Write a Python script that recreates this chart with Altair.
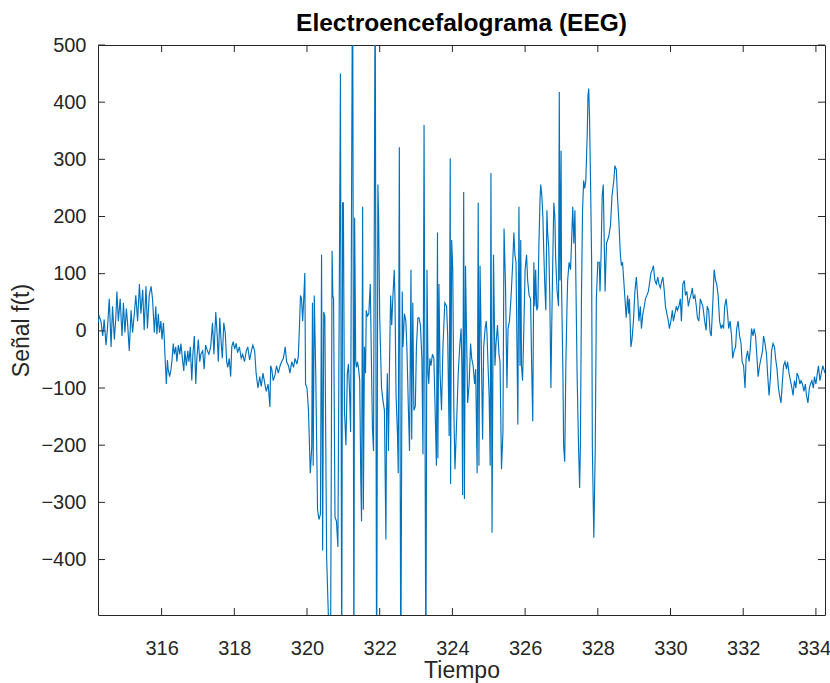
import altair as alt
import pandas as pd

tiempo = [
    314.25, 314.28, 314.33, 314.38, 314.42, 314.47, 314.51, 314.56, 314.61, 314.65, 314.70, 314.74, 314.77, 314.81, 314.86, 314.91,
    314.95, 314.99, 315.03, 315.06, 315.11, 315.16, 315.20, 315.25, 315.29, 315.34, 315.39, 315.43, 315.48, 315.52, 315.57, 315.61,
    315.66, 315.71, 315.75, 315.80, 315.84, 315.87, 315.91, 315.94, 315.98, 316.01, 316.05, 316.07, 316.10, 316.13, 316.16, 316.18,
    316.22, 316.26, 316.29, 316.32, 316.35, 316.39, 316.42, 316.46, 316.50, 316.53, 316.57, 316.61, 316.64, 316.68, 316.72, 316.75,
    316.79, 316.83, 316.86, 316.90, 316.94, 316.97, 317.01, 317.05, 317.08, 317.13, 317.17,
    317.21, 317.26, 317.30, 317.35, 317.40, 317.44, 317.49, 317.53, 317.56, 317.60, 317.64, 317.67, 317.71, 317.75, 317.79, 317.82,
    317.86, 317.90, 317.93, 317.97, 318.01, 318.05, 318.09, 318.14, 318.19, 318.23, 318.28, 318.33, 318.37, 318.42, 318.47, 318.51,
    318.56, 318.60, 318.65, 318.70, 318.74, 318.79, 318.84, 318.88, 318.93, 318.98, 319.00, 319.03, 319.07, 319.12, 319.16, 319.21,
    319.26, 319.30, 319.35, 319.40, 319.44, 319.49, 319.53, 319.58, 319.63, 319.67, 319.72, 319.76,
    319.79, 319.82, 319.85, 319.88, 319.91, 319.94, 319.96, 320.00, 320.04, 320.09, 320.13, 320.15, 320.17, 320.20, 320.24, 320.29,
    320.33, 320.37, 320.40, 320.43, 320.46, 320.49, 320.54, 320.645, 320.69, 320.71, 320.73, 320.77, 320.81, 320.85, 320.92, 320.955,
    320.98, 321.00, 321.03, 321.07, 321.11, 321.14, 321.17, 321.20, 321.255, 321.29, 321.31, 321.34, 321.36, 321.39, 321.42, 321.45,
    321.48, 321.50, 321.53, 321.55, 321.58, 321.61, 321.63, 321.66, 321.70, 321.74, 321.80, 321.83, 321.875, 321.915, 321.95, 321.97,
    322.00, 322.05, 322.09, 322.13, 322.17, 322.19, 322.21, 322.24, 322.27, 322.30, 322.33, 322.36, 322.40, 322.42, 322.45, 322.49,
    322.51, 322.54, 322.58, 322.62, 322.64, 322.68, 322.72, 322.75, 322.79, 322.82, 322.86, 322.88, 322.91, 322.94, 322.98, 323.01,
    323.05, 323.08, 323.12, 323.16, 323.19, 323.22, 323.27, 323.30, 323.33, 323.35, 323.38,
    323.41, 323.45, 323.49, 323.52, 323.56, 323.59, 323.60, 323.63, 323.66, 323.70, 323.74, 323.79, 323.84, 323.87, 323.91, 323.94,
    323.95, 323.98, 324.01, 324.04, 324.07, 324.11, 324.16, 324.20, 324.24, 324.26, 324.28, 324.31, 324.33, 324.36, 324.39, 324.42,
    324.46, 324.50, 324.53, 324.57, 324.61, 324.64, 324.68, 324.71, 324.73, 324.76, 324.79, 324.83, 324.86, 324.90, 324.93, 324.95,
    324.98, 325.01, 325.04, 325.06, 325.09, 325.13, 325.17, 325.20, 325.24, 325.28, 325.31, 325.35, 325.39, 325.42, 325.46, 325.50,
    325.53, 325.57,
    325.61, 325.66, 325.69, 325.72, 325.75, 325.80, 325.83, 325.86, 325.88, 325.90, 325.93, 325.96, 326.00, 326.04, 326.07, 326.11,
    326.15, 326.18, 326.21, 326.24, 326.27, 326.29, 326.32, 326.35, 326.38, 326.41, 326.43, 326.46, 326.49, 326.51, 326.54, 326.57,
    326.60, 326.62, 326.65, 326.68, 326.71, 326.73, 326.76, 326.79, 326.82, 326.84, 326.88, 326.92, 326.94, 326.96, 326.99, 327.00,
    327.04, 327.06, 327.09, 327.12, 327.15, 327.17, 327.21, 327.25, 327.28, 327.31, 327.34, 327.37, 327.39, 327.43, 327.47, 327.50,
    327.52, 327.55, 327.58, 327.61, 327.64, 327.67, 327.71, 327.73, 327.75, 327.77, 327.80, 327.83, 327.85, 327.89, 327.93, 327.96,
    328.00, 328.04, 328.06, 328.09, 328.12, 328.15,
    328.20, 328.24, 328.30, 328.35, 328.39, 328.44, 328.47, 328.51, 328.54, 328.58, 328.62, 328.65, 328.68, 328.72, 328.76, 328.78,
    328.82, 328.85, 328.87, 328.91, 328.94, 328.98, 329.02, 329.06, 329.10, 329.13, 329.17, 329.20, 329.24, 329.28, 329.31, 329.35,
    329.39, 329.42, 329.46, 329.50, 329.53, 329.57, 329.61, 329.65, 329.68, 329.72, 329.76, 329.79, 329.83, 329.86, 329.90, 329.94,
    329.97, 330.01, 330.05, 330.08, 330.12, 330.16, 330.19, 330.23, 330.27, 330.30, 330.34, 330.38, 330.41, 330.45, 330.49, 330.53,
    330.56, 330.60, 330.63, 330.67, 330.71, 330.74, 330.78, 330.82,
    330.89, 330.94, 330.98, 331.01, 331.05, 331.09, 331.12, 331.16, 331.20, 331.24, 331.27, 331.31, 331.35, 331.39, 331.42, 331.46,
    331.49, 331.53, 331.57, 331.60, 331.64, 331.68, 331.71, 331.75, 331.79, 331.82, 331.86, 331.90, 331.94, 331.97, 332.01, 332.05,
    332.08, 332.12, 332.16, 332.19, 332.23, 332.27, 332.30, 332.34, 332.38, 332.41, 332.45, 332.49, 332.53, 332.56, 332.60, 332.64,
    332.67, 332.71, 332.75, 332.78, 332.82, 332.86, 332.89, 332.93, 332.97, 333.00, 333.04, 333.08, 333.11, 333.15, 333.19, 333.22,
    333.26, 333.30, 333.34, 333.37, 333.41, 333.45, 333.48, 333.52, 333.56, 333.59, 333.63, 333.67, 333.71, 333.74, 333.78, 333.82,
    333.85, 333.89, 333.93, 333.96, 334.00, 334.04, 334.07, 334.11, 334.15, 334.19, 334.25,
]

senal = [
    15, 26, 17, -9, 20, -25, 4, 56, -28, 43, -15, 23, 69, 17, 56, -9,
    49, -3, 39, 17, -35, 36, -3, 30, 62, 17, 82, 30, 72, 1, 78, 4,
    62, 78, 56, -3, 43, -6, 30, -3, 17, -15, 14, -9, -54, -93, -51, -67,
    -80, -67, -48, -22, -41, -28, -54, -25, -41, -22, -48, -70, -35, -61, -35, -54,
    -28, -87, -41, -9, -93, -48, -15, -54, -41, -35, -67,
    -25, -35, -41, -28, 14, -41, 33, -9, -54, 23, -22, -48, 14, -3, -54, -64,
    -48, -80, -28, -19, -32, -22, -38, -28, -48, -41, -54, -35, -28, -51, -35, -25,
    -35, -74, -100, -80, -97, -74, -93, -106, -93, -133, -61, -67, -87, -77, -61, -74,
    -61, -54, -48, -28, -54, -61, -74, -54, -64, -48, -58, -45,
    4, 62, 56, 17, 56, 101, -93, -100, -139, -249, -203, 49, -236, 62, -74, -313,
    -330, -320, 133, -384, 33, 26, -397, -620, 140, 62, 56, -326, -333, -378, 450, -620,
    224, 224, -139, -200, -74, -58, -106, -177, 700, -650, 198, -54, -64, -54, -67, -87,
    -262, -333, 217, -313, -28, -74, 36, 26, 30, 82, -171, -210, 650, -650, 256, 198,
    23, -100, -122, -139, -365, -139, -74, -210, -54, 62, 10, 56, 107, 56, -113, -184,
    -249, 321, -620, 69, -28, 30, 17, -35, -139, -210, 107, -190, 49, -139, -132, -28,
    23, 23, 10, -48, -216, 360, -620, 107, -74, -93, -48,
    -61, -41, -48, -126, -236, 172, -223, 82, -74, -139, -28, 49, 43, -9, -184, 302,
    -268, 159, 107, -139, -242, -171, -74, -28, 4, -61, -287, 243, -294, 114, -9, -126,
    -93, -22, -48, -61, -93, -67, -249, 224, -236, 114, -9, -190, -28, 4, 17, -3,
    -61, -113, -236, 276, -353, 133, -61, -22, 10, -41, -54, -242, -177, 179, 82, -100,
    4, 17,
    56, 120, 172, 133, 120, -164, 217, -61, 159, -61, -87, -9, 107, 133, 88, 62,
    56, -61, -158, 120, 43, 107, 36, 43, 153, 230, 256, 236, 198, 146, 82, 36,
    211, 172, 146, 56, -100, -3, 120, 224, 198, 127, 69, 43, 418, 88, 315, 88,
    -74, -203, -229, -61, 36, 88, 120, 107, 159, 217, 153, 211, 120, -74, -203, -275,
    -203, 56, 211, 263, 249, 263, 347, 412, 424, 379, 263, 120, -203, -362, -203, 56,
    120, 120, 69, 133, 236, 256,
    69, 153, 165, 185, 236, 263, 289, 282, 236, 191, 133, 114, 120, 82, 43, 23,
    62, 30, 56, -28, -16, 17, 69, 94, 56, 17, 43, 4, 30, 43, 56, 62,
    69, 82, 101, 107, 114, 88, 82, 94, 82, 75, 88, 94, 69, 43, 30, 17,
    4, 17, 36, 17, 30, 43, 36, 43, 56, 17, 82, 88, 62, 69, 43, 56,
    62, 75, 56, 62, 43, 23, 17, 56,
    43, 17, 1, 43, 36, -3, -9, 43, 107, 88, 82, 62, 17, 4, 10, 4,
    43, 56, 30, 4, 17, -9, -48, -35, -28, 4, 17, -9, -22, -54, -61, -100,
    -48, -35, -54, -35, 4, -9, 4, -9, -48, -80, -61, -48, -35, -9, -22, -41,
    -74, -113, -80, -35, -22, -28, -48, -67, -100, -113, -126, -87, -61, -54, -67, -54,
    -74, -87, -100, -113, -87, -100, -74, -80, -93, -87, -93, -106, -93, -113, -126, -100,
    -93, -87, -100, -80, -93, -74, -61, -87, -74, -61, -74,
]

x_ticks = [316, 318, 320, 322, 324, 326, 328, 330, 332, 334]
y_ticks = [-400, -300, -200, -100, 0, 100, 200, 300, 400, 500]
x_domain = [314.25, 334.25]
y_domain = [-497, 500]

W, H = 727, 570
TXT = "#262626"
FONT = "Liberation Sans"
TICK = 7

df = pd.DataFrame({"t": tiempo, "v": senal})
df_xt = pd.DataFrame({"t": x_ticks})
df_yt = pd.DataFrame({"v": y_ticks})

xscale = alt.Scale(domain=x_domain, nice=False, zero=False)
yscale = alt.Scale(domain=y_domain, nice=False, zero=False)
xaxis = alt.Axis(orient="bottom", values=x_ticks, title="Tiempo", grid=False,
                 domain=False, ticks=False, labelPadding=23, titlePadding=1, format="d",
                 labelOffset=alt.ExprRef("datum.value == 334 ? -2 : 0"))
yaxis = alt.Axis(orient="left", values=y_ticks, title="Señal f(t)", grid=False,
                 domain=False, ticks=False, labelPadding=12, titlePadding=7, format="d")

main = alt.Chart(df).mark_line(clip=True, color="#0072BD", strokeWidth=1.15).encode(
    x=alt.X("t:Q", scale=xscale, axis=xaxis),
    y=alt.Y("v:Q", scale=yscale, axis=yaxis),
)

tick_style = dict(color=TXT, strokeWidth=1)
xt_bottom = alt.Chart(df_xt).mark_rule(**tick_style).encode(
    x=alt.X("t:Q", scale=xscale, axis=xaxis), y=alt.value(H), y2=alt.value(H - TICK))
xt_top = alt.Chart(df_xt).mark_rule(**tick_style).encode(
    x=alt.X("t:Q", scale=xscale, axis=xaxis), y=alt.value(0), y2=alt.value(TICK))
yt_left = alt.Chart(df_yt).mark_rule(**tick_style).encode(
    y=alt.Y("v:Q", scale=yscale, axis=yaxis), x=alt.value(0), x2=alt.value(TICK))
yt_right = alt.Chart(df_yt).mark_rule(**tick_style).encode(
    y=alt.Y("v:Q", scale=yscale, axis=yaxis), x=alt.value(W - TICK), x2=alt.value(W))

chart = alt.layer(main, xt_bottom, xt_top, yt_left, yt_right).properties(
    width=W,
    height=H,
    autosize=alt.AutoSizeParams(type="none"),
    padding={"left": 98, "top": 45, "right": 5, "bottom": 68},
    background="white",
    title=alt.Title("Electroencefalograma (EEG)", font=FONT, fontSize=24.5, fontWeight="bold",
                    color="#000000", anchor="middle", offset=-1),
).configure_view(
    stroke=TXT, strokeWidth=1
).configure_axis(
    labelFont=FONT, labelFontSize=20, labelColor=TXT,
    titleFont=FONT, titleFontSize=23, titleFontWeight="normal", titleColor=TXT,
)

chart.save("out.html", embed_options={"renderer": "svg", "actions": False})
